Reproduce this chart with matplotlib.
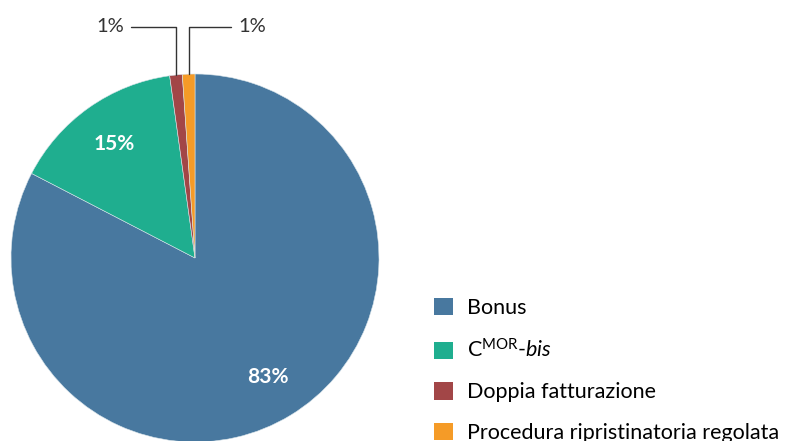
import matplotlib
matplotlib.use("Agg")
import numpy as np
import matplotlib.pyplot as plt
from matplotlib.patches import Patch

plt.rcParams["font.family"] = ["Lato", "DejaVu Sans"]
plt.rcParams["mathtext.fontset"] = "custom"
plt.rcParams["mathtext.rm"] = "Lato"
plt.rcParams["mathtext.it"] = "Lato:italic"

# share of requests by procedure type (%)
labels = ["Bonus", r"C$^{\rm MOR}$-$\it{bis}$", "Doppia fatturazione",
          "Procedura ripristinatoria regolata"]
values = [82.6, 15.2, 1.1, 1.1]
colors = ["#48789f", "#1fae8f", "#a24647", "#f59b27"]

W, H = 795, 441
cx, cy, r = 195, 258, 184

fig = plt.figure(figsize=(W / 100, H / 100), dpi=100)
ax = fig.add_axes([0, 0, 1, 1])

wedges, _ = ax.pie(values, colors=colors, startangle=90, counterclock=False,
                   radius=1, wedgeprops=dict(linewidth=0.4, edgecolor="#d8e4ea"))
ax.set_xlim(-cx / r, (W - cx) / r)
ax.set_ylim(-(H - cy) / r, cy / r)
ax.set_aspect("equal")
ax.axis("off")

total = sum(values)
for w, v in zip(wedges, values):
    mid = np.deg2rad((w.theta1 + w.theta2) / 2)
    if v > 5:
        ax.text(0.76 * np.cos(mid), 0.76 * np.sin(mid), f"{v / total * 100:.0f}%",
                color="white", fontsize=15, fontweight="bold",
                ha="center", va="center")

# callouts for the two small slices
ly = (cy - 27) / r
small = [(wedges[2], values[2], -0.385, "right"), (wedges[3], values[3], 0.235, "left")]
for w, v, tx, ha in small:
    mid = np.deg2rad((w.theta1 + w.theta2) / 2)
    ax.annotate(f"{v / total * 100:.0f}%", xy=(np.cos(mid), np.sin(mid)),
                xytext=(tx, ly), ha=ha, va="center", fontsize=14.5, color="#333333",
                arrowprops=dict(arrowstyle="-", color="#333333", lw=1.0,
                                shrinkA=3, shrinkB=0,
                                connectionstyle="angle,angleA=0,angleB=90,rad=0"))

handles = [Patch(facecolor=c, edgecolor="none") for c in colors]
fig.legend(handles, labels, loc="upper left",
           bbox_to_anchor=(434 / W, 1 - 298 / H), frameon=False, fontsize=15.5,
           handlelength=0.87, handleheight=0.87, handletextpad=0.65,
           labelspacing=0.95, borderpad=0, borderaxespad=0)

fig.savefig("out.png", dpi=100)
